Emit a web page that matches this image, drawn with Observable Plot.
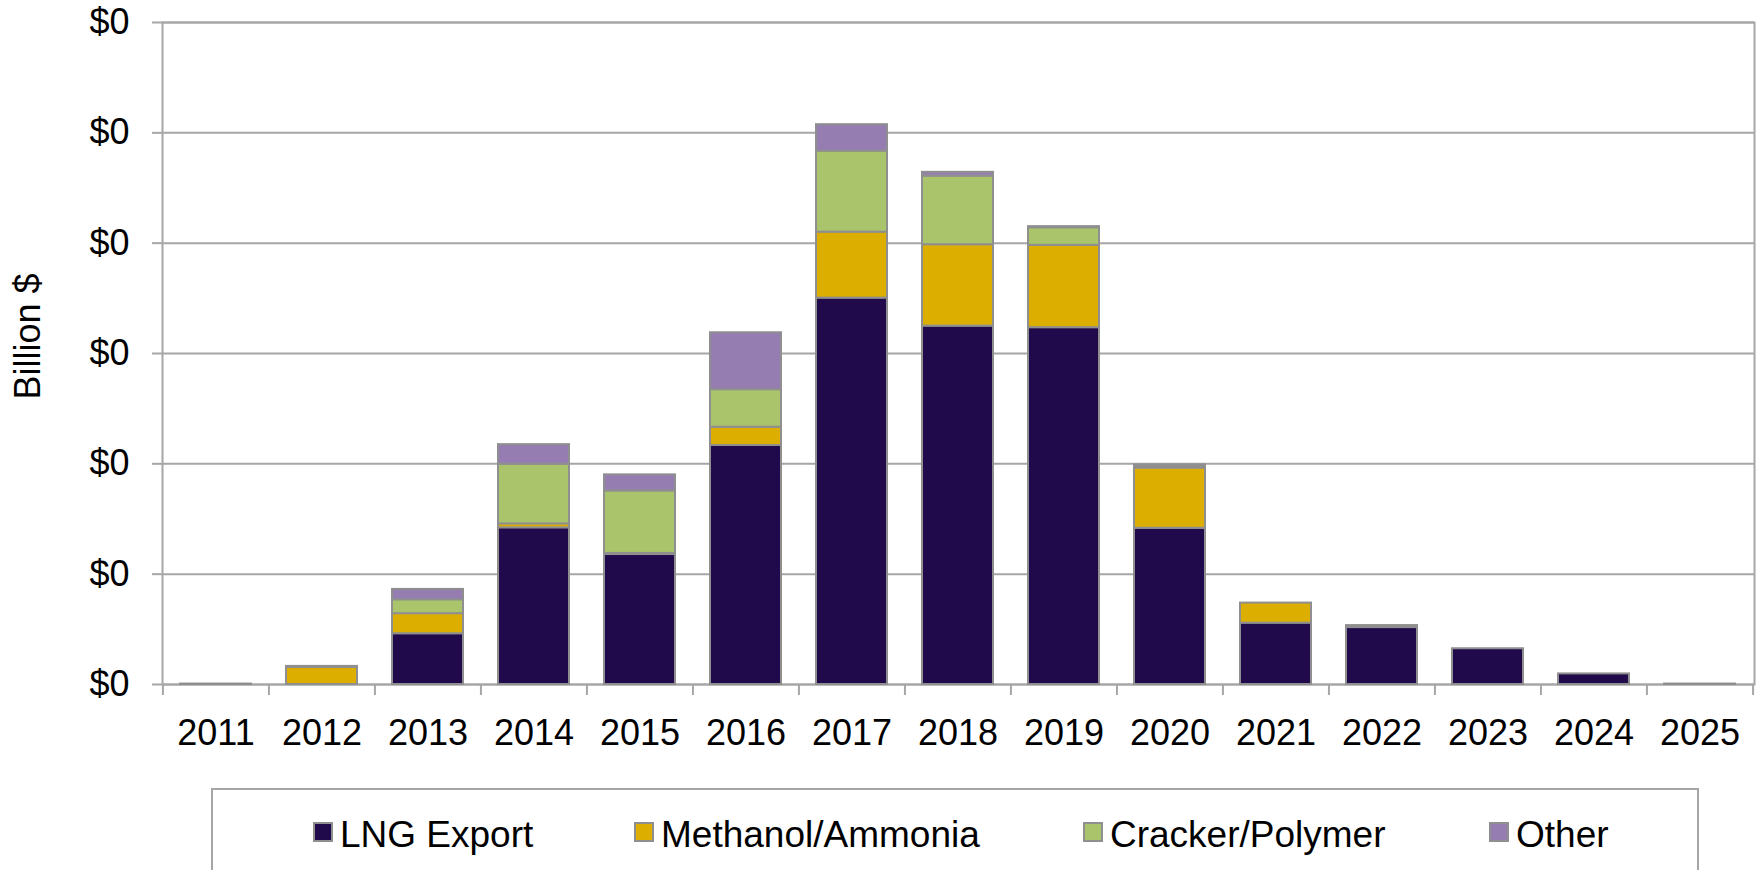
<!DOCTYPE html>
<html>
<head>
<meta charset="utf-8">
<script src="https://cdn.jsdelivr.net/npm/d3@7"></script>
<script src="https://cdn.jsdelivr.net/npm/@observablehq/plot@0.6"></script>
<style>
  body { margin: 0; background: #fff; overflow: hidden; }
  #wrap { position: relative; width: 1758px; height: 870px; font-family: "Liberation Sans", Arial, sans-serif; }
  #legend { position: absolute; left: 211px; top: 788px; width: 1488px; height: 110px; border: 2px solid #a6a6a6; box-sizing: border-box; background: #fff; }
  .sw { position: absolute; top: 32px; width: 20px; height: 20px; border: 2px solid #8f8f8f; box-sizing: border-box; }
  .lt { position: absolute; top: 26px; font-size: 37px; line-height: 37px; color: #000; white-space: nowrap; }
</style>
</head>
<body>
<div id="wrap"><div id="chart"></div><div id="legend"></div></div>
<script>
// ---- data (billion $) ----
const years = ["2011","2012","2013","2014","2015","2016","2017","2018","2019","2020","2021","2022","2023","2024","2025"];
const series = ["LNG Export", "Methanol/Ammonia", "Cracker/Polymer", "Other"];
const lngExport      = [0.0002, 0,      0.0230, 0.0710, 0.0589, 0.1083, 0.1751, 0.1624, 0.1617, 0.0708, 0.0278, 0.0258, 0.0162, 0.0048, 0.0002];
const methanolAmmonia= [0,      0.0077, 0.0091, 0.0018, 0.0005, 0.0083, 0.0299, 0.0369, 0.0373, 0.0273, 0.0091, 0,      0,      0,      0];
const crackerPolymer = [0,      0,      0.0063, 0.0270, 0.0283, 0.0170, 0.0367, 0.0311, 0.0080, 0.0007, 0,      0,      0,      0,      0];
const other          = [0,      0.0005, 0.0047, 0.0089, 0.0073, 0.0258, 0.0120, 0.0017, 0.0005, 0.0007, 0,      0.0009, 0,      0,      0];
const yTicks = [0, 0.05, 0.10, 0.15, 0.20, 0.25, 0.30];
const colors = ["#200a4b", "#dcae00", "#a9c46b", "#957db1"];

// ---- layout ----
const W = 1758, H = 770, mL = 162, mR = 4, mT = 22, mB = 86;
const step = (W - mL - mR) / years.length;
const grid = "#a6a6a6", edge = "#8f8f8f";

const values = [lngExport, methanolAmmonia, crackerPolymer, other];
const table = [];
series.forEach((s, si) => years.forEach((y, yi) => {
  const v = values[si][yi];
  if (v > 0) table.push({year: y, series: s, value: v});
}));

const chart = Plot.plot({
  width: W, height: H,
  marginLeft: mL, marginRight: mR, marginTop: mT, marginBottom: mB,
  style: {fontFamily: "'Liberation Sans', Arial, sans-serif", fontSize: "36px", color: "#000", background: "#fff"},
  x: {domain: years, paddingInner: 0.33, paddingOuter: 0.165, axis: null},
  y: {domain: [0, 0.3], axis: null},
  color: {domain: series, range: colors},
  marks: [
    Plot.ruleY(yTicks, {stroke: grid, strokeWidth: 2}),
    Plot.frame({stroke: grid, strokeWidth: 2}),
    Plot.barY(table, {x: "year", y: "value", fill: "series", order: series, stroke: edge, strokeWidth: 2}),
    Plot.axisY({ticks: yTicks, tickSize: 10, tickPadding: 23, tickFormat: d3.format("$.0f"), label: null, stroke: grid, strokeWidth: 2, fontSize: 36, fill: "#000"}),
    Plot.axisX({tickSize: 11, tickFormat: () => "", dx: -step / 2, label: null, stroke: grid, strokeWidth: 2}),
    Plot.axisX([years[years.length - 1]], {tickSize: 11, tickFormat: () => "", dx: step / 2, label: null, stroke: grid, strokeWidth: 2}),
    Plot.axisX({tickSize: 0, tickPadding: 35, label: null, fontSize: 36, fill: "#000"}),
    Plot.text(["Billion $"], {frameAnchor: "left", textAnchor: "middle", rotate: -90, dx: -134, dy: -17, fontSize: 36, fill: "#000"})
  ]
});
document.getElementById("chart").appendChild(chart);

// ---- legend ----
const legendLeft = [100, 421, 870, 1276];
const legend = document.getElementById("legend");
series.forEach((s, i) => {
  const sw = document.createElement("div");
  sw.className = "sw";
  sw.style.left = legendLeft[i] + "px";
  sw.style.background = colors[i];
  legend.appendChild(sw);
  const t = document.createElement("div");
  t.className = "lt";
  t.style.left = (legendLeft[i] + 27) + "px";
  t.textContent = s;
  legend.appendChild(t);
});
</script>
</body>
</html>
